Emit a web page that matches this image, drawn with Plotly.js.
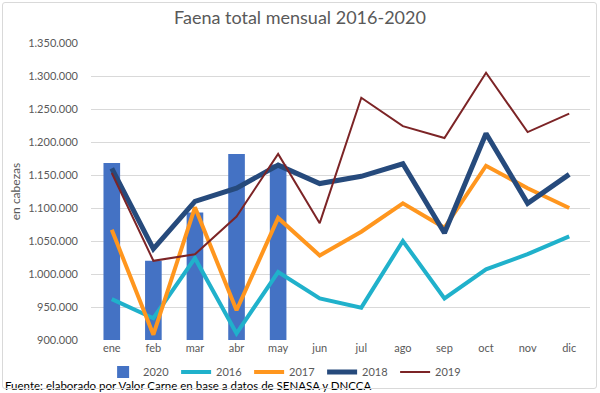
<!DOCTYPE html>
<html><head><meta charset="utf-8">
<script src="https://cdn.plot.ly/plotly-3.0.1.min.js"></script>
<style>
body{margin:0;background:#fff;}
#wrap{position:relative;width:600px;height:393px;}
#frame{position:absolute;left:2px;top:2px;width:593px;height:385px;border:1px solid #d9d9d9;border-radius:3px;pointer-events:none;}
</style></head><body>
<div id="wrap"><div id="chart" style="width:600px;height:393px;"></div><div id="frame"></div></div>
<script>
const months = ["ene","feb","mar","abr","may","jun","jul","ago","sep","oct","nov","dic"];
const y2020 = [1168000,1020000,1093000,1182000,1166000];
const y2016 = [962000,933000,1024000,910000,1003000,963000,949000,1050000,963000,1007000,1030000,1057000];
const y2017 = [1067000,908000,1101000,945000,1085000,1028000,1064000,1107000,1070000,1164000,1130000,1100000];
const y2018 = [1160000,1038000,1110000,1130000,1165000,1137000,1148000,1167000,1062000,1213000,1107000,1151000];
const y2019 = [1153000,1020000,1030000,1087000,1182000,1077000,1267000,1224000,1206000,1305000,1215000,1243000];
const yTicks = [900000,950000,1000000,1050000,1100000,1150000,1200000,1250000,1300000,1350000];
const yTickText = ["900.000","950.000","1.000.000","1.050.000","1.100.000","1.150.000","1.200.000","1.250.000","1.300.000","1.350.000"];

const data = [
  {type:"bar", name:"2020", x:months.slice(0,y2020.length), y:y2020, marker:{color:"#4472C4"}, width:0.4},
  {type:"scatter", mode:"lines", name:"2016", x:months, y:y2016, line:{color:"#20B1CB", width:4}},
  {type:"scatter", mode:"lines", name:"2017", x:months, y:y2017, line:{color:"#FF961E", width:4}},
  {type:"scatter", mode:"lines", name:"2018", x:months, y:y2018, line:{color:"#264A7C", width:5}},
  {type:"scatter", mode:"lines", name:"2019", x:months, y:y2019, line:{color:"#7C2426", width:2}}
];
const font = {family:"Lato, 'Open Sans', sans-serif", color:"#595959"};
const layout = {
  width:600, height:393,
  margin:{l:91, r:10, t:43, b:53, autoexpand:false},
  paper_bgcolor:"#fff", plot_bgcolor:"#fff",
  font:Object.assign({size:11}, font),
  title:{text:"Faena total mensual 2016-2020", x:0.5, xanchor:"center", y:0.955, yanchor:"middle", font:Object.assign({}, font, {size:18})},
  xaxis:{type:"category", categoryarray:months, range:[-0.5, 11.5], showgrid:false, showline:false, ticks:"", tickfont:{size:11, color:"#595959"}, fixedrange:true},
  yaxis:{range:[900000,1350000], tickvals:yTicks, ticktext:yTickText, gridcolor:"#d9d9d9", gridwidth:1, zeroline:false, showline:false, ticks:"", tickfont:{size:11, color:"#595959"}, ticklabelstandoff:12,
    title:{text:"en cabezas", font:{size:12, color:"#595959"}, standoff:4}},
  showlegend:true,
  legend:{orientation:"h", x:0.39, xanchor:"center", y:(340-372)/297, yanchor:"middle", font:{size:11, color:"#595959"}, entrywidth:28, entrywidthmode:"pixels", tracegroupgap:0, bgcolor:"rgba(0,0,0,0)"},
  bargap:0.6,
  annotations:[{text:"Fuente: elaborado por Valor Carne en base a datos de SENASA y DNCCA", xref:"paper", yref:"paper",
    x:(3-91)/499, xanchor:"left", y:(340-385.5)/297, yanchor:"middle", showarrow:false, font:{family:"Lato, sans-serif", size:11.5, color:"#000"}}]
};
Plotly.newPlot("chart", data, layout, {displayModeBar:false, staticPlot:true});
</script></body></html>
